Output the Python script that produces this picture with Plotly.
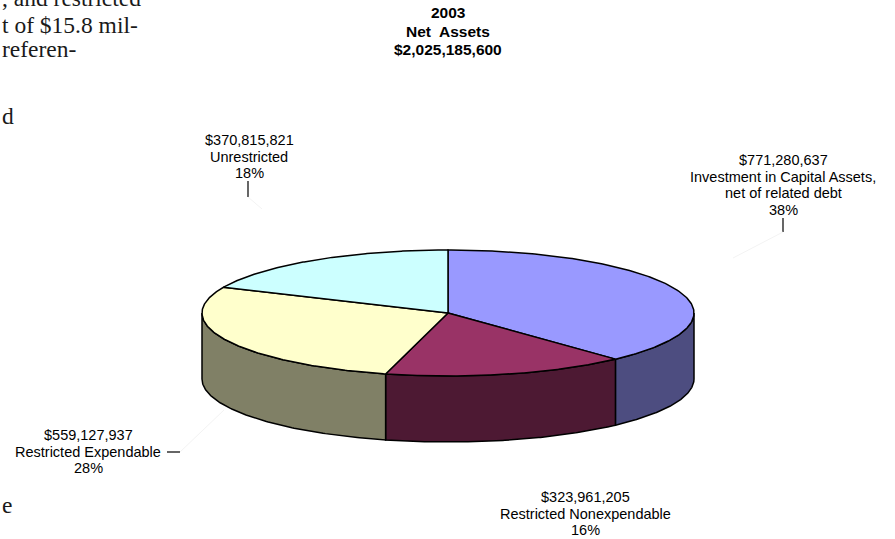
import numpy as np
import plotly.graph_objects as go

# Net asset components (2003)
categories = ["Investment in Capital Assets,|net of related debt",
              "Restricted Nonexpendable",
              "Restricted Expendable",
              "Unrestricted"]
amounts = [771280637, 323961205, 559127937, 370815821]
title_lines = ["2003", "Net  Assets"]

# Face colours (top) and shaded wall colours
top_colors = ["#9999FF", "#993366", "#FFFFCC", "#CCFFFF"]
side_colors = ["#4D4D80", "#4D1933", "#808066", "#668080"]

# Fragments of the surrounding page text
page_lines = [", and restricted", "t of $15.8 mil-", "referen-", "d", "e"]

W, H = 895, 539
CX, CY, RX, RY, DEPTH = 448, 313, 246, 63, 66

total = sum(amounts)
fracs = [a / total for a in amounts]
bounds = np.concatenate([[0.0], np.cumsum(fracs)]) * 2 * np.pi  # clockwise from 12 o'clock


def rim(theta, drop=0.0):
    return CX + RX * np.sin(theta), CY - RY * np.cos(theta) + drop


fig = go.Figure()

# Outer walls on the visible (front) half of the disc
for i in range(len(amounts)):
    s0 = max(bounds[i], np.pi / 2)
    s1 = min(bounds[i + 1], 3 * np.pi / 2)
    if s1 <= s0:
        continue
    t = np.linspace(s0, s1, 120)
    xt, yt = rim(t)
    xb, yb = rim(t[::-1], DEPTH)
    xs = np.concatenate([xt, xb, xt[:1]])
    ys = np.concatenate([yt, yb, yt[:1]])
    fig.add_trace(go.Scatter(x=xs, y=ys, mode="lines", fill="toself",
                             fillcolor=side_colors[i],
                             line=dict(color="black", width=1.5),
                             hoverinfo="skip", showlegend=False))

# Top faces
for i in range(len(amounts)):
    t = np.linspace(bounds[i], bounds[i + 1], 200)
    xr, yr = rim(t)
    xs = np.concatenate([[CX], xr, [CX]])
    ys = np.concatenate([[CY], yr, [CY]])
    fig.add_trace(go.Scatter(x=xs, y=ys, mode="lines", fill="toself",
                             fillcolor=top_colors[i],
                             line=dict(color="black", width=1.5),
                             hoverinfo="skip", showlegend=False))

annotations = []
label_font = dict(family="Liberation Sans, Arial, sans-serif", size=14.5, color="black")


def px(x, y):
    return x / W, 1 - y / H


def add_line_text(text, x, y, font, xanchor="center"):
    xp, yp = px(x, y)
    annotations.append(dict(text=text, x=xp, y=yp, xref="paper", yref="paper",
                            xanchor=xanchor, yanchor="middle", showarrow=False,
                            font=font))


# Title
title_all = title_lines + [f"${total:,.0f}"]
for k, line in enumerate(title_all):
    add_line_text(f"<b>{line}</b>", 448, 13 + 18 * k,
                  dict(family="Liberation Sans, Arial, sans-serif", size=15.5, color="black"))

# Slice labels: value, name, percent
label_pos = [(783, 160, 16.5), (585, 497, 16.5), (88, 435, 16.5), (249, 140, 16.5)]
for i, (amt, name) in enumerate(zip(amounts, categories)):
    lines = [f"${amt:,.0f}"] + name.split("|") + [f"{round(100 * amt / total)}%"]
    x0, y0, dy = label_pos[i]
    for k, line in enumerate(lines):
        add_line_text(line, x0, y0 + dy * k, label_font)

# Page text around the chart
serif = dict(family="Liberation Serif, Times New Roman, serif", size=23.5, color="#1a1a1a")
for text, y in zip(page_lines, [-2, 25, 49, 116, 505]):
    add_line_text(text, 0, y, serif, xanchor="left")

# Leader lines
shapes = []
for (x0, y0, x1, y1) in [(248, 181, 248, 197), (783, 218, 783, 232), (167, 452, 180, 452)]:
    shapes.append(dict(type="line", xref="x", yref="y", x0=x0, y0=y0, x1=x1, y1=y1,
                       line=dict(color="black", width=1.2)))
for (x0, y0, x1, y1) in [(248, 197, 262, 209), (783, 232, 733, 258), (180, 452, 224, 410)]:
    shapes.append(dict(type="line", xref="x", yref="y", x0=x0, y0=y0, x1=x1, y1=y1,
                       line=dict(color="#f3f3f3", width=1)))

fig.update_layout(
    width=W, height=H,
    margin=dict(l=0, r=0, t=0, b=0),
    paper_bgcolor="white", plot_bgcolor="white",
    xaxis=dict(range=[0, W], visible=False, fixedrange=True),
    yaxis=dict(range=[H, 0], visible=False, fixedrange=True),
    annotations=annotations,
    shapes=shapes,
    showlegend=False,
)

fig.write_html("out.html")
